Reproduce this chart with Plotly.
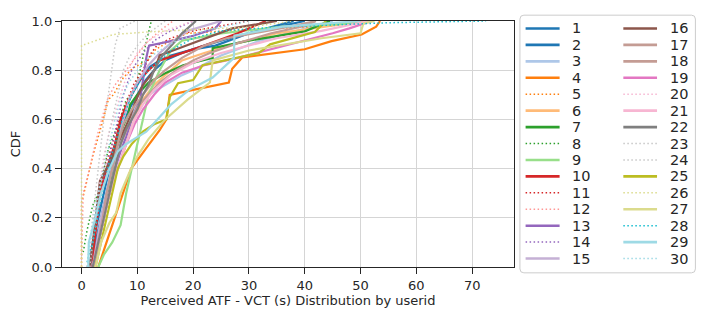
import plotly.graph_objects as go

# ---------------- data ----------------
users = [str(i) for i in range(1, 31)]

u01_x = [1.5, 2, 3, 4, 5, 6, 7, 8, 9, 10.5, 12, 14, 16, 20, 24, 30, 38]
u01_y = [0, 0.1, 0.2, 0.3, 0.4, 0.5, 0.58, 0.65, 0.7, 0.76, 0.81, 0.84, 0.86, 0.885, 0.9, 0.95, 1.0]
u02_x = [2, 2.5, 3.5, 4.5, 5.5, 6.5, 7.5, 8.5, 10, 11.5, 13, 15, 18, 22, 28, 34, 40]
u02_y = [0, 0.1, 0.2, 0.3, 0.4, 0.5, 0.58, 0.64, 0.7, 0.76, 0.8, 0.84, 0.87, 0.9, 0.94, 0.97, 1.0]
u03_x = [2, 3, 4, 5, 6, 7, 8.5, 10, 12, 15, 18, 20, 25, 32, 40, 45]
u03_y = [0, 0.1, 0.2, 0.3, 0.4, 0.5, 0.6, 0.66, 0.7, 0.74, 0.78, 0.8, 0.86, 0.92, 0.97, 1.0]
u04_x = [3, 4.5, 6, 7.5, 8.9, 11.5, 14, 15.2, 15.8, 20, 26.4, 27, 28.8, 40, 44.8, 50.2, 52.8, 53.5]
u04_y = [0, 0.1, 0.2, 0.3, 0.4, 0.48, 0.556, 0.6, 0.7, 0.72, 0.75, 0.806, 0.852, 0.885, 0.918, 0.945, 0.977, 1.0]
u05_x = [0, 0, 0.7, 2, 3.9, 4.8, 5.7, 7.5, 9.3, 11.9, 13.3, 16, 19, 30, 45, 48]
u05_y = [0, 0.26, 0.325, 0.45, 0.6, 0.68, 0.7, 0.77, 0.81, 0.84, 0.885, 0.92, 0.95, 0.965, 0.98, 1.0]
u06_x = [2.5, 3, 4, 5, 6.5, 8, 9.5, 11, 13, 15, 18, 22, 28, 35, 45, 51]
u06_y = [0, 0.1, 0.2, 0.3, 0.4, 0.5, 0.6, 0.68, 0.74, 0.78, 0.84, 0.87, 0.91, 0.95, 0.98, 1.0]
u07_x = [2, 3, 4, 5, 6.2, 7, 8.4, 8.7, 10, 12, 15.2, 18.2, 23.5, 23.5, 30, 40, 44.5]
u07_y = [0, 0.1, 0.2, 0.32, 0.5, 0.55, 0.62, 0.66, 0.7, 0.75, 0.79, 0.82, 0.85, 0.89, 0.92, 0.958, 1.0]
u08_x = [0.3, 1, 2, 3, 3.6, 4.8, 6.9, 8, 9.3, 10.5, 11.3, 12.5]
u08_y = [0.06, 0.15, 0.25, 0.3, 0.35, 0.48, 0.6, 0.68, 0.71, 0.8, 0.885, 1.0]
u09_x = [3, 4, 5.5, 7, 8, 9, 10, 11, 12, 14, 16, 18, 25, 36, 49, 50]
u09_y = [0, 0.05, 0.1, 0.17, 0.3, 0.4, 0.5, 0.6, 0.7, 0.8, 0.88, 0.92, 0.95, 0.977, 0.99, 1.0]
u10_x = [2, 2.3, 2.8, 3.3, 4.5, 6, 7, 8.5, 10, 12, 14, 18, 22, 28, 33]
u10_y = [0, 0.1, 0.2, 0.3, 0.4, 0.5, 0.6, 0.68, 0.75, 0.8, 0.84, 0.87, 0.9, 0.95, 1.0]
u11_x = [1.8, 2, 2.5, 3, 4, 5.5, 6.8, 8, 9.5, 11, 12.5, 13.5, 16, 20, 25, 30]
u11_y = [0, 0.1, 0.2, 0.3, 0.4, 0.5, 0.6, 0.67, 0.75, 0.8, 0.87, 0.9, 0.93, 0.96, 0.98, 1.0]
u12_x = [0, 0.3, 0.9, 2, 3, 4.6, 6, 8, 10, 11.6, 14, 16.4]
u12_y = [0.03, 0.3, 0.35, 0.45, 0.55, 0.68, 0.74, 0.8, 0.86, 0.91, 0.96, 1.0]
u13_x = [2, 3, 4, 5, 6, 7, 8, 9, 10.5, 11.6, 12.1, 16.4, 20, 24, 25]
u13_y = [0, 0.1, 0.2, 0.3, 0.4, 0.47, 0.53, 0.6, 0.68, 0.85, 0.9, 0.92, 0.94, 0.97, 1.0]
u14_x = [1.5, 2, 2.8, 3.5, 4.5, 5.5, 6.5, 7.5, 9, 11, 13, 16, 20]
u14_y = [0, 0.1, 0.2, 0.3, 0.4, 0.5, 0.6, 0.7, 0.8, 0.87, 0.92, 0.96, 1.0]
u15_x = [2, 2.8, 3.5, 4.5, 5.5, 6.5, 7.5, 8.5, 10, 12, 14, 16, 19, 25]
u15_y = [0, 0.1, 0.2, 0.3, 0.4, 0.5, 0.6, 0.68, 0.75, 0.82, 0.87, 0.91, 0.96, 1.0]
u16_x = [1.5, 2, 2.5, 3.3, 4.5, 5.7, 7.1, 8.7, 9.6, 11, 13.1, 14, 17.6, 21.7, 27, 35]
u16_y = [0, 0.1, 0.2, 0.35, 0.4, 0.46, 0.535, 0.61, 0.67, 0.74, 0.8, 0.86, 0.89, 0.925, 0.97, 1.0]
u17_x = [2, 3, 4, 5, 6, 7, 8.5, 10, 12, 14, 17, 20, 23, 28, 34, 40, 42]
u17_y = [0, 0.1, 0.2, 0.3, 0.4, 0.5, 0.58, 0.65, 0.7, 0.75, 0.8, 0.84, 0.87, 0.91, 0.95, 0.98, 1.0]
u18_x = [2.5, 3, 3.8, 4.5, 5.5, 6.5, 7.5, 9, 11, 13, 15, 18, 22, 26, 32, 38, 42]
u18_y = [0, 0.1, 0.2, 0.3, 0.4, 0.5, 0.58, 0.64, 0.7, 0.76, 0.8, 0.85, 0.9, 0.93, 0.955, 0.98, 1.0]
u19_x = [2, 3, 4, 5, 6.5, 8, 9.5, 11, 13, 15, 18, 22, 28, 35, 42, 45, 48, 52]
u19_y = [0, 0.1, 0.2, 0.3, 0.4, 0.5, 0.58, 0.64, 0.7, 0.75, 0.79, 0.82, 0.85, 0.89, 0.93, 0.95, 0.97, 1.0]
u20_x = [1, 2, 3, 4, 5, 6, 7, 8, 9, 10, 12, 15, 20]
u20_y = [0, 0.15, 0.3, 0.45, 0.55, 0.63, 0.7, 0.77, 0.83, 0.87, 0.92, 0.96, 1.0]
u21_x = [2, 3, 4, 5, 6.5, 8, 9.5, 11, 13, 16, 20, 25, 35, 43, 51.5]
u21_y = [0, 0.1, 0.2, 0.3, 0.4, 0.5, 0.6, 0.66, 0.72, 0.78, 0.83, 0.87, 0.93, 0.96, 1.0]
u22_x = [2, 3, 4, 5, 6, 7, 8, 10, 11, 12, 13, 14.5, 16.5, 18, 20.5]
u22_y = [0, 0.1, 0.2, 0.3, 0.4, 0.5, 0.56, 0.64, 0.7, 0.74, 0.8, 0.86, 0.91, 0.95, 1.0]
u23_x = [1, 1.5, 2, 2.5, 3, 3.5, 4, 4.8, 5.4, 6, 6.9, 9.6]
u23_y = [0, 0.1, 0.2, 0.3, 0.4, 0.5, 0.6, 0.7, 0.81, 0.9, 0.97, 1.0]
u24_x = [1.5, 2, 2.8, 3.5, 4.5, 5.5, 6.5, 7.5, 8.5, 10, 12, 15]
u24_y = [0, 0.1, 0.2, 0.35, 0.5, 0.6, 0.7, 0.8, 0.85, 0.9, 0.95, 1.0]
u25_x = [2.5, 3.5, 4.5, 5.5, 6.5, 7.5, 9, 11, 13, 15.2, 15.8, 17.3, 20, 21.7, 31.8, 33.8, 41.8, 43.8]
u25_y = [0, 0.1, 0.2, 0.3, 0.4, 0.45, 0.5, 0.55, 0.58, 0.6, 0.69, 0.747, 0.76, 0.82, 0.87, 0.905, 0.955, 1.0]
u26_x = [0, 0, 5.7, 11.6, 20, 30, 38]
u26_y = [0.0, 0.9, 0.945, 0.955, 0.965, 0.975, 1.0]
u27_x = [2.5, 3.5, 5, 6.2, 7, 8.5, 10, 12, 15, 19, 23, 23.5, 30, 43, 50, 50.5, 52.5]
u27_y = [0, 0.1, 0.18, 0.22, 0.3, 0.38, 0.45, 0.52, 0.6, 0.68, 0.75, 0.84, 0.88, 0.93, 0.95, 0.99, 1.0]
u28_x = [1, 2, 3, 4, 5, 6, 7, 8, 9, 10, 12, 14, 16, 20, 25, 35, 45, 55, 72.5]
u28_y = [0.02, 0.1, 0.22, 0.33, 0.43, 0.5, 0.58, 0.64, 0.7, 0.74, 0.8, 0.84, 0.88, 0.93, 0.96, 0.975, 0.985, 0.993, 1.0]
u29_x = [1.2, 1.3, 2.5, 3.5, 5, 6.5, 8, 11.6, 14, 16, 19.3, 23.5, 27.3, 27.4, 36, 45, 50]
u29_y = [0, 0.1, 0.2, 0.3, 0.4, 0.47, 0.5, 0.55, 0.61, 0.66, 0.72, 0.77, 0.85, 0.94, 0.977, 0.99, 1.0]
u30_x = [1, 1.5, 2.2, 3, 4, 5, 6, 7, 8.5, 10, 12, 14, 17, 22, 30]
u30_y = [0, 0.1, 0.2, 0.3, 0.4, 0.5, 0.6, 0.68, 0.75, 0.8, 0.85, 0.88, 0.92, 0.96, 1.0]

x_ticks = [0, 10, 20, 30, 40, 50, 60, 70]
y_ticks = [0.0, 0.2, 0.4, 0.6, 0.8, 1.0]

series_x = [u01_x, u02_x, u03_x, u04_x, u05_x, u06_x, u07_x, u08_x, u09_x, u10_x,
            u11_x, u12_x, u13_x, u14_x, u15_x, u16_x, u17_x, u18_x, u19_x, u20_x,
            u21_x, u22_x, u23_x, u24_x, u25_x, u26_x, u27_x, u28_x, u29_x, u30_x]
series_y = [u01_y, u02_y, u03_y, u04_y, u05_y, u06_y, u07_y, u08_y, u09_y, u10_y,
            u11_y, u12_y, u13_y, u14_y, u15_y, u16_y, u17_y, u18_y, u19_y, u20_y,
            u21_y, u22_y, u23_y, u24_y, u25_y, u26_y, u27_y, u28_y, u29_y, u30_y]

# ---------------- styles ----------------
colors = ["#1f77b4", "#1f77b4", "#aec7e8", "#ff7f0e", "#ff7f0e", "#ffbb78",
          "#2ca02c", "#2ca02c", "#98df8a", "#d62728", "#d62728", "#ff9896",
          "#9467bd", "#9467bd", "#c5b0d5", "#8c564b", "#c49c94", "#c49c94",
          "#e377c2", "#f7b6d2", "#f7b6d2", "#7f7f7f", "#c7c7c7", "#c7c7c7",
          "#bcbd22", "#dbdb8d", "#dbdb8d", "#17becf", "#9edae5", "#9edae5"]
dotted = [False, False, False, False, True, False, False, True, False, False,
          True, True, False, True, False, False, False, False, False, True,
          False, False, True, True, False, True, False, True, False, True]

SOLID_W = 2.2
DOT_W = 1.5
DOT_DASH = "1.5px,2.5px"
FONT = "DejaVu Sans"
TXT = "#262626"

fig = go.Figure()
for i, u in enumerate(users):
    fig.add_trace(go.Scatter(
        x=series_x[i], y=series_y[i], mode="lines", name=u, showlegend=False,
        line=dict(color=colors[i], width=DOT_W if dotted[i] else SOLID_W,
                  dash=DOT_DASH if dotted[i] else "solid"),
        hoverinfo="name+x+y"))

# page offset from default body margin
OFF = 8
W, H = 706 - OFF, 318 - OFF
# plot area in page pixels
L, R, T, B = 58, 514, 14, 267


def xp(px):
    return (px - L) / (R - L)


def yp(py):
    return (B - py) / (B - T)


def rounded_rect(x0, y0, x1, y1, r):
    rx = r / (R - L)
    ry = r / (B - T)
    X0, X1, Y0, Y1 = xp(x0), xp(x1), yp(y1), yp(y0)
    return (f"M {X0 + rx},{Y0} L {X1 - rx},{Y0} Q {X1},{Y0} {X1},{Y0 + ry} "
            f"L {X1},{Y1 - ry} Q {X1},{Y1} {X1 - rx},{Y1} "
            f"L {X0 + rx},{Y1} Q {X0},{Y1} {X0},{Y1 - ry} "
            f"L {X0},{Y0 + ry} Q {X0},{Y0} {X0 + rx},{Y0} Z")


# ---------------- custom two-column legend ----------------
shapes = [dict(type="path", xref="paper", yref="paper",
               path=rounded_rect(520, 8, 697, 273, 4),
               line=dict(color="#cccccc", width=1), fillcolor="white", layer="below")]
annotations = []
row0, dy = 21.7, 16.9
cols = [(525.7, 560.0, 572.0), (624.3, 658.3, 670.5)]
for i, u in enumerate(users):
    c, r = divmod(i, 15)
    lx0, lx1, tx = cols[c]
    cy = row0 + r * dy
    shapes.append(dict(type="line", xref="paper", yref="paper",
                       x0=xp(lx0), x1=xp(lx1), y0=yp(cy), y1=yp(cy),
                       line=dict(color=colors[i],
                                 width=DOT_W if dotted[i] else 2.6,
                                 dash=DOT_DASH if dotted[i] else "solid")))
    annotations.append(dict(xref="paper", yref="paper", x=xp(tx), y=yp(cy),
                            text=u, showarrow=False, xanchor="left", yanchor="middle",
                            height=16, valign="middle", borderpad=0,
                            font=dict(family=FONT, size=14.5, color=TXT)))

fig.update_layout(
    width=W, height=H,
    margin=dict(l=L - OFF, r=706 - R, t=T - OFF, b=318 - B, pad=0),
    plot_bgcolor="white", paper_bgcolor="white",
    font=dict(family=FONT, size=13, color=TXT),
    shapes=shapes, annotations=annotations,
    showlegend=False,
)
axis_common = dict(showline=True, linecolor=TXT, linewidth=1.3, mirror=True,
                   showgrid=True, gridcolor="#d5d5d5", gridwidth=1,
                   ticks="outside", ticklen=6, tickwidth=1.3, tickcolor=TXT,
                   zeroline=False, layer="above traces", ticklabeloverflow="allow",
                   tickfont=dict(family=FONT, size=13, color=TXT))
fig.update_xaxes(range=[-3.5, 77.5], tickvals=x_ticks,
                 title=dict(text="Perceived ATF - VCT (s) Distribution by userid",
                            font=dict(family=FONT, size=13, color=TXT), standoff=4),
                 **axis_common)
fig.update_yaxes(range=[0, 1.00001], tickvals=y_ticks, tickformat=".1f",
                 title=dict(text="CDF", font=dict(family=FONT, size=13, color=TXT), standoff=8),
                 **axis_common)

fig.write_html("out.html")
